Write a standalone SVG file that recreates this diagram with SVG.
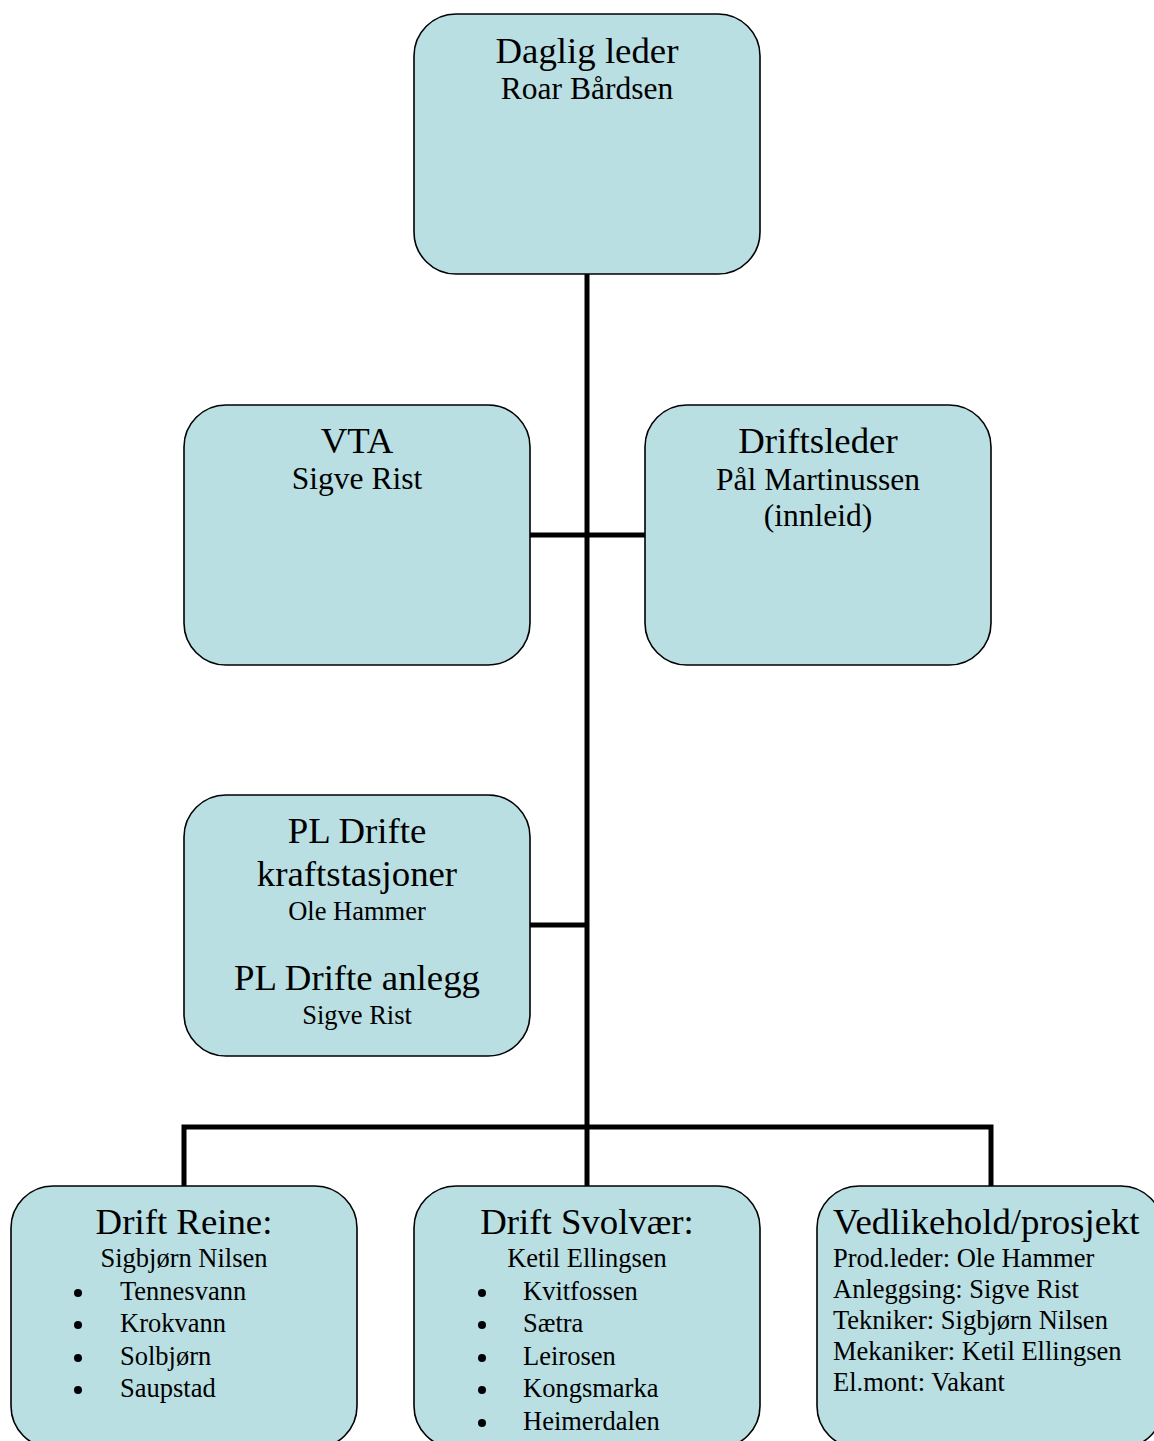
<svg xmlns="http://www.w3.org/2000/svg" width="1154" height="1441" viewBox="0 0 1154 1441">
<style>
.box{fill:#B9DFE3;stroke:#000;stroke-width:1.6}
.con{stroke:#000;stroke-width:5;fill:none;stroke-linecap:butt}
text{font-family:"Liberation Serif","Times New Roman",serif;fill:#000}
.t{font-size:36.8px;text-anchor:middle}
.tl{font-size:36.8px;text-anchor:start}
.s{font-size:31.5px;text-anchor:middle}
.m{font-size:26.5px;text-anchor:middle}
.i{font-size:26.5px}
.b{fill:#000}
</style>
<rect width="1154" height="1441" fill="#fff"/>
<g id="connectors">
<path class="con" d="M587 274 V1127"/>
<path class="con" d="M530 535 H645"/>
<path class="con" d="M530 925 H587"/>
<path class="con" d="M184 1186 V1127 H991 V1186"/>
<path class="con" d="M587 1127 V1186"/>
</g>
<g id="daglig-leder">
<rect class="box" x="414" y="14" width="346" height="260" rx="42"/>
<text class="t" x="587" y="63">Daglig leder</text>
<text class="s" x="587" y="99">Roar Bårdsen</text>
</g>
<g id="vta">
<rect class="box" x="184" y="405" width="346" height="260" rx="42"/>
<text class="t" x="357" y="453">VTA</text>
<text class="s" x="357" y="489">Sigve Rist</text>
</g>
<g id="driftsleder">
<rect class="box" x="645" y="405" width="346" height="260" rx="42"/>
<text class="t" x="818" y="453">Driftsleder</text>
<text class="s" x="818" y="490">Pål Martinussen</text>
<text class="s" x="818" y="526">(innleid)</text>
</g>
<g id="pl-drifte">
<rect class="box" x="184" y="795" width="346" height="261" rx="42"/>
<text class="t" x="357" y="843">PL Drifte</text>
<text class="t" x="357" y="886">kraftstasjoner</text>
<text class="m" x="357" y="920">Ole Hammer</text>
<text class="t" x="357" y="990">PL Drifte anlegg</text>
<text class="m" x="357" y="1024">Sigve Rist</text>
</g>
<g id="drift-reine">
<rect class="box" x="11" y="1186" width="346" height="262" rx="42"/>
<text class="t" x="184" y="1234">Drift Reine:</text>
<text class="m" x="184" y="1267">Sigbjørn Nilsen</text>
<circle class="b" cx="78" cy="1293" r="4"/>
<text class="i" x="120" y="1300">Tennesvann</text>
<circle class="b" cx="78" cy="1325" r="4"/>
<text class="i" x="120" y="1332">Krokvann</text>
<circle class="b" cx="78" cy="1358" r="4"/>
<text class="i" x="120" y="1365">Solbjørn</text>
<circle class="b" cx="78" cy="1390" r="4"/>
<text class="i" x="120" y="1397">Saupstad</text>
</g>
<g id="drift-svolvaer">
<rect class="box" x="414" y="1186" width="346" height="262" rx="42"/>
<text class="t" x="587" y="1234">Drift Svolvær:</text>
<text class="m" x="587" y="1267">Ketil Ellingsen</text>
<circle class="b" cx="482" cy="1293" r="4"/>
<text class="i" x="523" y="1300">Kvitfossen</text>
<circle class="b" cx="482" cy="1325" r="4"/>
<text class="i" x="523" y="1332">Sætra</text>
<circle class="b" cx="482" cy="1358" r="4"/>
<text class="i" x="523" y="1365">Leirosen</text>
<circle class="b" cx="482" cy="1390" r="4"/>
<text class="i" x="523" y="1397">Kongsmarka</text>
<circle class="b" cx="482" cy="1423" r="4"/>
<text class="i" x="523" y="1430">Heimerdalen</text>
</g>
<g id="vedlikehold">
<rect class="box" x="817" y="1186" width="346" height="262" rx="42"/>
<text class="tl" x="833" y="1234">Vedlikehold/prosjekt</text>
<text class="i" x="833" y="1267">Prod.leder: Ole Hammer</text>
<text class="i" x="833" y="1298">Anleggsing: Sigve Rist</text>
<text class="i" x="833" y="1329">Tekniker: Sigbjørn Nilsen</text>
<text class="i" x="833" y="1360">Mekaniker: Ketil Ellingsen</text>
<text class="i" x="833" y="1391">El.mont: Vakant</text>
</g>
</svg>
